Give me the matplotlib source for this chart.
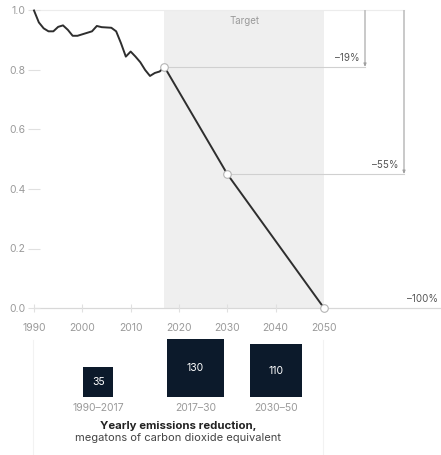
import matplotlib.pyplot as plt
import numpy as np

plt.rcParams['font.family'] = ['Inter', 'DejaVu Sans']
plt.rcParams['font.size'] = 7.5

# --- data ---
years = [1990, 1991, 1992, 1993, 1994, 1995, 1996, 1997, 1998, 1999,
         2000, 2001, 2002, 2003, 2004, 2005, 2006, 2007, 2008, 2009,
         2010, 2011, 2012, 2013, 2014, 2015, 2016, 2017, 2030, 2050]
index = [1.00, 0.96, 0.94, 0.93, 0.93, 0.945, 0.95, 0.935, 0.915, 0.915,
         0.92, 0.925, 0.93, 0.948, 0.944, 0.943, 0.942, 0.93, 0.89, 0.845,
         0.862, 0.845, 0.826, 0.80, 0.78, 0.79, 0.795, 0.81, 0.45, 0.0]
milestone_years = [2017, 2030, 2050]
milestone_vals = [0.81, 0.45, 0.0]
milestone_labels = ['–19%', '–55%', '–100%']
target_span = (2017, 2050)

period_labels = ['1990–2017', '2017–30', '2030–50']
period_values = [35, 130, 110]

GRAY = '#9a9a9a'
NAVY = '#0c1a2b'

fig = plt.figure(figsize=(4.41, 4.55), dpi=100)
W, H = 441, 455

# main axes: 1990 at x=34px, 0.0 at y=308px, 1.0 at y=10.5px
px_per_year = 4.833
x_right = 1990 + (W - 34) / px_per_year
ax = fig.add_axes([34 / W, (H - 308) / H, (W - 34) / W, (308 - 10.5) / H])
ax.set_xlim(1990, x_right)
ax.set_ylim(0, 1.0)
for s in ax.spines.values():
    s.set_visible(False)

ax.axvspan(*target_span, color='#efefef', zorder=0, lw=0)
ax.text(sum(target_span) / 2, 0.965, 'Target', ha='center', va='center', color=GRAY, fontsize=7)

ax.plot([1990, x_right], [0, 0], color='#d8d8d8', lw=0.9, zorder=1, clip_on=False)
ax.plot([1990, 2066.6], [1.0, 1.0], color='#ececec', lw=0.8, zorder=1, clip_on=False)

ax.plot(years, index, color='#2e2e2e', lw=1.4, zorder=3, clip_on=False)

# annotation columns (x in years, derived from pixel layout)
ann_x = [1990 + (365 - 34) / px_per_year, 1990 + (404 - 34) / px_per_year]
for yr, v, xa, lab in zip(milestone_years[:2], milestone_vals[:2], ann_x, milestone_labels[:2]):
    ax.plot([yr, xa], [v, v], color='#d0d0d0', lw=0.8, zorder=2)
    ax.annotate('', xy=(xa, v), xytext=(xa, 1.0),
                arrowprops=dict(arrowstyle='-|>,head_length=0.25,head_width=0.1',
                                color='#a0a0a0', lw=0.8, shrinkA=0, shrinkB=0))
    ax.text(xa - 1.2, v + 0.015, lab, ha='right', va='bottom', color='#555555', fontsize=7)
ax.text(x_right - 0.6, 0.015, milestone_labels[2], ha='right', va='bottom', color='#555555', fontsize=7)

ax.scatter(milestone_years, milestone_vals, s=30, facecolor='white', edgecolor='#b5b5b5',
           lw=0.8, zorder=4, clip_on=False)
ax.set_xticks(range(1990, 2051, 10))
ax.set_yticks(np.arange(0, 1.01, 0.2))
ax.set_yticklabels([f'{v:.1f}' for v in np.arange(0, 1.01, 0.2)])
ax.tick_params(axis='both', colors='#e0e0e0', labelcolor=GRAY, labelsize=7.5)
ax.tick_params(axis='y', direction='inout', length=8, pad=2, width=0.8)
ax.tick_params(axis='x', direction='inout', length=6, pad=8, width=0.8)

# bottom panel in pixel coordinates
ax2 = fig.add_axes([0, 0, 1, (H - 330) / H])
ax2.set_xlim(0, W)
ax2.set_ylim(H, 330)
ax2.axis('off')
ax2.plot([33, 33], [340, H], color='#f2f2f2', lw=0.8)
ax2.plot([323, 323], [340, H], color='#f2f2f2', lw=0.8)

centers = [98.3, 195.5, 276]
base_y = 397
k = 57.6 / np.sqrt(max(period_values))
for cx, val, lab in zip(centers, period_values, period_labels):
    side = k * np.sqrt(val)
    ax2.add_patch(plt.Rectangle((cx - side / 2, base_y - side), side, side, color=NAVY, lw=0))
    ax2.text(cx, base_y - side / 2, str(val), ha='center', va='center', color='white', fontsize=7.5)
    ax2.text(cx, base_y + 11, lab, ha='center', va='center', color=GRAY, fontsize=7.5)

ax2.text(178, 425.5, 'Yearly emissions reduction,', ha='center', va='center',
         fontweight='bold', color='#222222', fontsize=8.2)
ax2.text(178, 437.5, 'megatons of carbon dioxide equivalent', ha='center', va='center',
         color='#444444', fontsize=8)

fig.savefig('out.png', dpi=100)
